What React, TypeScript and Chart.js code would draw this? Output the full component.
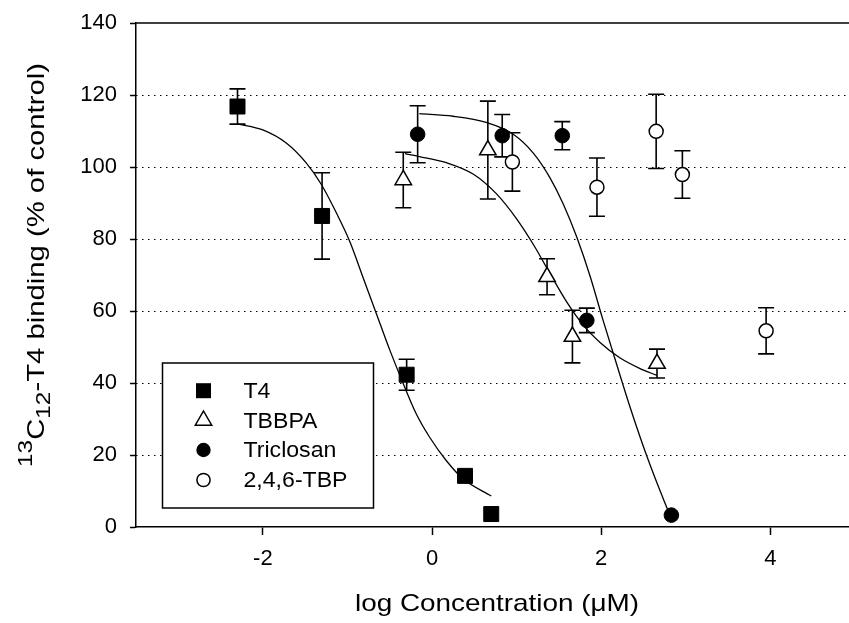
import React, { useEffect, useRef } from 'react';
import { Chart, registerables } from 'chart.js';

Chart.register(...registerables);

// ---- data ----
const xTicks = [-2, 0, 2, 4];
const yTicks = [0, 20, 40, 60, 80, 100, 120, 140];
const gridValues = [20, 40, 60, 80, 100, 120];

const seriesNames = ['T4', 'TBBPA', 'Triclosan', '2,4,6-TBP'];

const t4X = [-2.3, -1.3, -0.3, 0.39, 0.7];
const t4Y = [116.8, 86.4, 42.3, 14.2, 3.6];
const t4Err = [4.9, 12.0, 4.3, 0, 0];

const tbbpaX = [-0.34, 0.66, 1.36, 1.66, 2.66];
const tbbpaY = [96.4, 104.7, 69.5, 52.9, 45.4];
const tbbpaErr = [7.7, 13.6, 5.0, 7.3, 4.0];

const triclosanX = [-0.17, 0.83, 1.54, 1.83, 2.83];
const triclosanY = [109.1, 108.7, 108.7, 57.4, 3.3];
const triclosanErr = [7.9, 5.9, 3.9, 3.4, 0];

const tbpX = [0.95, 1.95, 2.65, 2.96, 3.95];
const tbpY = [101.4, 94.4, 109.9, 97.9, 54.5];
const tbpErr = [8.1, 8.1, 10.3, 6.6, 6.4];

// fitted curves
const t4CurveX = [-2.3, -2.0, -1.72, -1.49, -1.31, -1.13, -0.97, -0.82, -0.66, -0.5, -0.34, -0.19, -0.03, 0.17, 0.37, 0.7];
const t4CurveY = [112.0, 110.3, 106.6, 101.2, 95.2, 87.2, 79.2, 69.6, 59.4, 49.2, 39.8, 31.6, 25.0, 18.4, 13.3, 8.6];

const tbbpaCurveX = [-0.32, -0.15, 0.17, 0.49, 0.76, 1.0, 1.2, 1.39, 1.59, 1.79, 1.99, 2.22, 2.46, 2.66];
const tbbpaCurveY = [103.7, 102.9, 101.2, 98.0, 92.6, 85.6, 78.4, 70.6, 62.6, 56.0, 51.2, 47.0, 44.0, 42.1];

const triclosanCurveX = [-0.15, 0.25, 0.64, 0.96, 1.2, 1.39, 1.55, 1.71, 1.87, 2.02, 2.18, 2.34, 2.5, 2.66, 2.79];
const triclosanCurveY = [114.8, 114.1, 112.4, 109.1, 103.8, 97.2, 89.8, 80.6, 69.6, 57.6, 45.4, 33.4, 22.3, 12.2, 4.6];

const FONT = "'Liberation Sans', Arial, Helvetica, sans-serif";

const pts = (xs: number[], ys: number[]) => xs.map((x, i) => ({ x, y: ys[i] }));

const errorSeries = [
  { xs: t4X, ys: t4Y, es: t4Err },
  { xs: tbbpaX, ys: tbbpaY, es: tbbpaErr },
  { xs: triclosanX, ys: triclosanY, es: triclosanErr },
  { xs: tbpX, ys: tbpY, es: tbpErr },
];

function drawMarker(ctx: CanvasRenderingContext2D, kind: number, x: number, y: number) {
  ctx.save();
  ctx.lineWidth = 1.5;
  ctx.strokeStyle = '#000';
  ctx.beginPath();
  if (kind === 0) {
    ctx.fillStyle = '#000';
    ctx.rect(x - 7.5, y - 7.5, 15, 15);
    ctx.fill();
  } else if (kind === 1) {
    ctx.fillStyle = '#fff';
    ctx.moveTo(x, y - 9.5);
    ctx.lineTo(x + 8.2, y + 4.75);
    ctx.lineTo(x - 8.2, y + 4.75);
    ctx.closePath();
    ctx.fill();
    ctx.stroke();
  } else if (kind === 2) {
    ctx.fillStyle = '#000';
    ctx.arc(x, y, 7.2, 0, Math.PI * 2);
    ctx.fill();
  } else {
    ctx.fillStyle = '#fff';
    ctx.arc(x, y, 6.6, 0, Math.PI * 2);
    ctx.fill();
    ctx.stroke();
  }
  ctx.restore();
}

const decorPlugin = {
  id: 'decor',
  beforeDatasetsDraw(chart: any) {
    const { ctx, chartArea: a, scales } = chart;
    const xs = scales.x;
    const ys = scales.y;
    ctx.save();
    // dotted grid
    ctx.strokeStyle = '#000';
    ctx.lineWidth = 1;
    ctx.setLineDash([1.5, 4.5]);
    gridValues.forEach((v) => {
      const py = Math.round(ys.getPixelForValue(v)) + 0.5;
      ctx.beginPath();
      ctx.moveTo(a.left, py);
      ctx.lineTo(a.right, py);
      ctx.stroke();
    });
    ctx.setLineDash([]);
    // top frame line
    ctx.lineWidth = 1.5;
    ctx.beginPath();
    ctx.moveTo(a.left, a.top);
    ctx.lineTo(a.right, a.top);
    ctx.stroke();
    // error bars
    ctx.lineWidth = 1.6;
    errorSeries.forEach((s) => {
      s.xs.forEach((xv, i) => {
        const e = s.es[i];
        if (!e) return;
        const px = xs.getPixelForValue(xv);
        const pTop = ys.getPixelForValue(s.ys[i] + e);
        const pBot = ys.getPixelForValue(s.ys[i] - e);
        ctx.beginPath();
        ctx.moveTo(px, pTop);
        ctx.lineTo(px, pBot);
        ctx.moveTo(px - 8, pTop);
        ctx.lineTo(px + 8, pTop);
        ctx.moveTo(px - 8, pBot);
        ctx.lineTo(px + 8, pBot);
        ctx.stroke();
      });
    });
    ctx.restore();
  },
  afterDatasetsDraw(chart: any) {
    const { ctx } = chart;
    ctx.save();
    // legend box
    ctx.fillStyle = '#fff';
    ctx.fillRect(162.5, 363, 211, 145);
    ctx.strokeStyle = '#000';
    ctx.lineWidth = 1.5;
    ctx.strokeRect(162.5, 363, 211, 145);
    const rowY = [390.7, 420.5, 450, 480];
    ctx.font = `22px ${FONT}`;
    ctx.textBaseline = 'middle';
    ctx.textAlign = 'left';
    seriesNames.forEach((name, i) => {
      drawMarker(ctx, i, 203.5, rowY[i]);
      ctx.fillStyle = '#000';
      ctx.save();
      ctx.translate(243.5, rowY[i] + 1);
      ctx.scale(1.05, 1);
      ctx.fillText(name, 0, 0);
      ctx.restore();
    });

    // x-axis title
    ctx.fillStyle = '#000';
    ctx.font = `24px ${FONT}`;
    ctx.textBaseline = 'alphabetic';
    const xt = 'log Concentration (\u03BCM)';
    const xw = ctx.measureText(xt).width;
    const xsx = 284 / xw;
    ctx.save();
    ctx.translate(497, 611);
    ctx.scale(xsx, 1);
    ctx.textAlign = 'center';
    ctx.fillText(xt, 0, 0);
    ctx.restore();

    // y-axis title with super/subscript
    const big = `24px ${FONT}`;
    const small = `20px ${FONT}`;
    const parts = [
      { t: '13', f: small, dy: -11.5 },
      { t: 'C', f: big, dy: 0 },
      { t: '12', f: small, dy: 6.5 },
      { t: '-T4 binding (% of control)', f: big, dy: 0 },
    ];
    let total = 0;
    const widths = parts.map((p) => {
      ctx.font = p.f;
      const w = ctx.measureText(p.t).width;
      total += w;
      return w;
    });
    const ysx = 404 / total;
    ctx.save();
    ctx.translate(43.5, 467);
    ctx.rotate(-Math.PI / 2);
    ctx.scale(ysx, 1);
    ctx.textAlign = 'left';
    let cx = 0;
    parts.forEach((p, i) => {
      ctx.font = p.f;
      ctx.fillText(p.t, cx, p.dy);
      cx += widths[i];
    });
    ctx.restore();
    ctx.restore();
  },
};

export default function App() {
  const canvasRef = useRef<HTMLCanvasElement | null>(null);

  useEffect(() => {
    const canvas = canvasRef.current;
    if (!canvas) return;
    const markerBase = {
      showLine: false,
      pointBorderColor: '#000',
      order: 0,
    };
    const curveBase = {
      showLine: true,
      pointRadius: 0,
      pointHoverRadius: 0,
      borderColor: '#000',
      borderWidth: 1.3,
      cubicInterpolationMode: 'monotone',
      fill: false,
      order: 1,
    };
    const zeroPad = (s: any) => {
      s.paddingLeft = 0;
      s.paddingRight = 0;
      s.paddingTop = 0;
      s.paddingBottom = 0;
    };
    const chart = new Chart(canvas, {
      type: 'scatter',
      data: {
        datasets: [
          { ...markerBase, label: seriesNames[0], data: pts(t4X, t4Y), pointStyle: 'rect', pointRadius: 10.6, pointBackgroundColor: '#000', pointBorderWidth: 1 },
          { ...markerBase, label: seriesNames[1], data: pts(tbbpaX, tbbpaY), pointStyle: 'triangle', pointRadius: 9.5, pointBackgroundColor: '#fff', pointBorderWidth: 1.5 },
          { ...markerBase, label: seriesNames[2], data: pts(triclosanX, triclosanY), pointStyle: 'circle', pointRadius: 7.3, pointBackgroundColor: '#000', pointBorderWidth: 1 },
          { ...markerBase, label: seriesNames[3], data: pts(tbpX, tbpY), pointStyle: 'circle', pointRadius: 7, pointBackgroundColor: '#fff', pointBorderWidth: 1.5 },
          { ...curveBase, label: 'T4 fit', data: pts(t4CurveX, t4CurveY) },
          { ...curveBase, label: 'TBBPA fit', data: pts(tbbpaCurveX, tbbpaCurveY) },
          { ...curveBase, label: 'Triclosan fit', data: pts(triclosanCurveX, triclosanCurveY) },
        ] as any,
      },
      options: {
        animation: false,
        responsive: false,
        maintainAspectRatio: false,
        events: [],
        layout: { autoPadding: false, padding: { top: 23, left: 0, right: 0, bottom: 0 } },
        plugins: {
          legend: { display: false },
          tooltip: { enabled: false },
          title: { display: false },
        },
        scales: {
          x: {
            type: 'linear',
            min: -3.5,
            max: 4.93,
            afterBuildTicks: (s: any) => {
              s.ticks = xTicks.map((v) => ({ value: v }));
            },
            afterFit: (s: any) => {
              s.height = 96;
              zeroPad(s);
            },
            ticks: {
              font: { family: FONT, size: 22 },
              color: '#000',
              padding: 11,
              maxRotation: 0,
              autoSkip: false,
              callback: (v: any) => String(v),
            },
            grid: { drawOnChartArea: false, drawTicks: true, tickLength: 8, tickColor: '#000', tickWidth: 1.5 },
            border: { display: true, color: '#000', width: 1.5 },
          },
          y: {
            type: 'linear',
            min: 0,
            max: 140,
            afterBuildTicks: (s: any) => {
              s.ticks = yTicks.map((v) => ({ value: v }));
            },
            afterFit: (s: any) => {
              s.width = 136;
              zeroPad(s);
            },
            ticks: {
              font: { family: FONT, size: 22 },
              color: '#000',
              padding: 13,
              autoSkip: false,
              callback: (v: any) => String(v),
            },
            grid: { drawOnChartArea: false, drawTicks: true, tickLength: 6, tickColor: '#000', tickWidth: 1.5 },
            border: { display: true, color: '#000', width: 1.5 },
          },
        },
      } as any,
      plugins: [decorPlugin],
    });
    return () => chart.destroy();
  }, []);

  return (
    <div style={{ position: 'fixed', left: 0, top: 0, width: 849, height: 623, background: '#fff' }}>
      <canvas ref={canvasRef} width={849} height={623} style={{ width: 849, height: 623, display: 'block' }} />
    </div>
  );
}
